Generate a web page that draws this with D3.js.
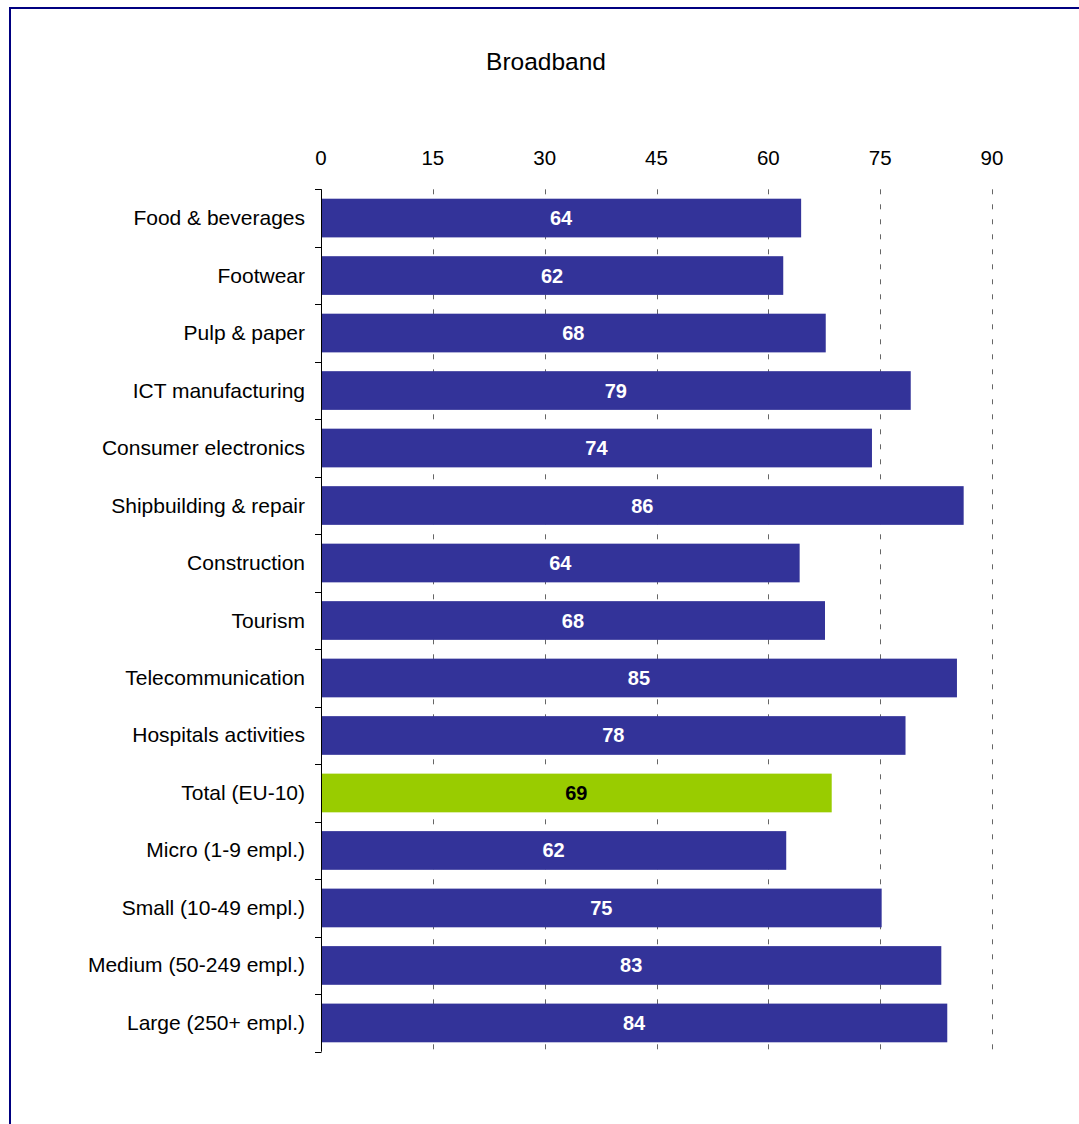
<!DOCTYPE html>
<html>
<head>
<meta charset="utf-8">
<script src="https://cdn.jsdelivr.net/npm/d3@7"></script>
<style>
  html, body { margin: 0; padding: 0; background: #fff; }
  svg { display: block; font-family: "Liberation Sans", Arial, sans-serif; }
</style>
</head>
<body>
<script>
// Share of enterprises with broadband access, by sector and size class (%)
const categories = [
  "Food & beverages", "Footwear", "Pulp & paper", "ICT manufacturing",
  "Consumer electronics", "Shipbuilding & repair", "Construction", "Tourism",
  "Telecommunication", "Hospitals activities", "Total (EU-10)",
  "Micro (1-9 empl.)", "Small (10-49 empl.)", "Medium (50-249 empl.)", "Large (250+ empl.)"
];
const values = [64.4, 62.0, 67.7, 79.1, 73.9, 86.2, 64.2, 67.6, 85.3, 78.4, 68.5, 62.4, 75.2, 83.2, 84.0];
const highlighted = ["Total (EU-10)"];
const xTicks = [0, 15, 30, 45, 60, 75, 90];
const title = "Broadband";

const W = 1079, H = 1124;
const margin = { left: 321, right: W - 992, top: 189.3, bottom: H - 1051.7 };

const svg = d3.select("body").append("svg").attr("width", W).attr("height", H);

// frame lines along the top and left edge
svg.append("line").attr("x1", 9).attr("x2", W).attr("y1", 8).attr("y2", 8)
  .attr("stroke", "#000080").attr("stroke-width", 2);
svg.append("line").attr("x1", 10).attr("x2", 10).attr("y1", 7).attr("y2", H)
  .attr("stroke", "#000080").attr("stroke-width", 2);

svg.append("text").attr("x", 546).attr("y", 70).attr("text-anchor", "middle")
  .attr("font-size", 24.5).attr("fill", "#000").text(title);

const x = d3.scaleLinear().domain([0, 90]).range([margin.left, W - margin.right]);
const y = d3.scaleBand().domain(categories)
  .range([margin.top, H - margin.bottom]).paddingInner(0.327).paddingOuter(0.1635);

// dashed vertical gridlines
svg.append("g").selectAll("line").data(xTicks.filter(d => d > 0)).join("line")
  .attr("x1", d => Math.round(x(d)) + 0.5).attr("x2", d => Math.round(x(d)) + 0.5)
  .attr("y1", margin.top).attr("y2", H - margin.bottom)
  .attr("stroke", "#666").attr("stroke-width", 1).attr("stroke-dasharray", "5,10");

// value axis labels along the top
svg.append("g").selectAll("text").data(xTicks).join("text")
  .attr("x", d => x(d)).attr("y", 165).attr("text-anchor", "middle")
  .attr("font-size", 20.5).attr("fill", "#000").text(d => d);

// bars
const data = categories.map((c, i) => ({ c, v: values[i] }));
svg.append("g").selectAll("rect").data(data).join("rect")
  .attr("x", x(0)).attr("y", d => y(d.c))
  .attr("width", d => x(d.v) - x(0)).attr("height", y.bandwidth())
  .attr("fill", d => highlighted.includes(d.c) ? "#99CC00" : "#333399");

// value labels
svg.append("g").selectAll("text").data(data).join("text")
  .attr("x", d => (x(0) + x(d.v)) / 2).attr("y", d => y(d.c) + y.bandwidth() / 2 + 7)
  .attr("text-anchor", "middle").attr("font-size", 20).attr("font-weight", "bold")
  .attr("fill", d => highlighted.includes(d.c) ? "#000" : "#fff")
  .text(d => Math.round(d.v));

// category axis with boundary ticks
const step = y.step();
const bounds = d3.range(categories.length + 1).map(i => margin.top + i * step);
const axisG = svg.append("g");
axisG.append("line").attr("x1", x(0) + 0.5).attr("x2", x(0) + 0.5)
  .attr("y1", margin.top).attr("y2", H - margin.bottom)
  .attr("stroke", "#000").attr("stroke-width", 1);
axisG.selectAll("line.tk").data(bounds).join("line").attr("class", "tk")
  .attr("x1", x(0) - 6).attr("x2", x(0) + 0.5)
  .attr("y1", d => Math.round(d) + 0.5).attr("y2", d => Math.round(d) + 0.5)
  .attr("stroke", "#000").attr("stroke-width", 1);
axisG.selectAll("text").data(categories).join("text")
  .attr("x", 305).attr("y", d => y(d) + y.bandwidth() / 2 + 7)
  .attr("text-anchor", "end").attr("font-size", 21).attr("fill", "#000")
  .text(d => d);
</script>
</body>
</html>
